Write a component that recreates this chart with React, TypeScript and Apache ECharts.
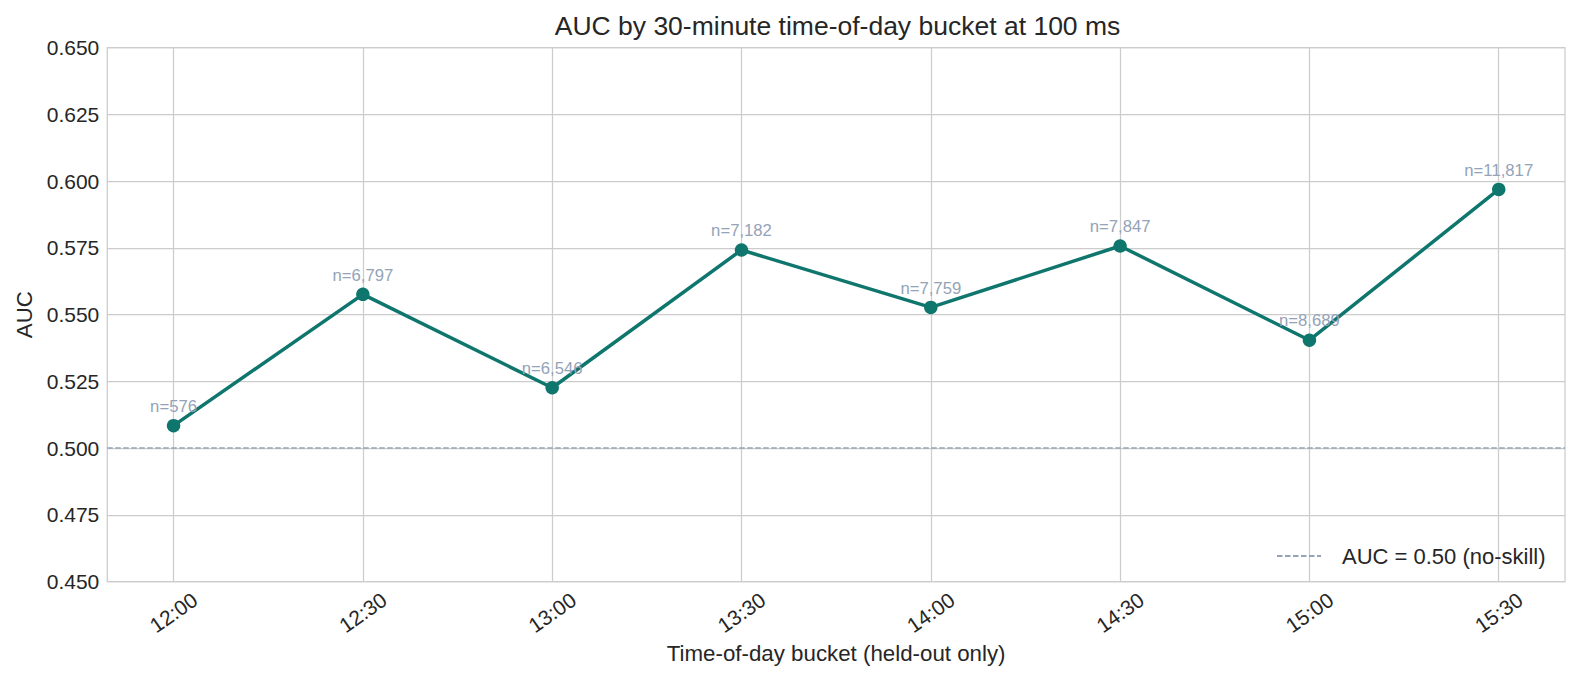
import React, { useEffect, useRef } from "react";
import * as echarts from "echarts";

const buckets = ["12:00", "12:30", "13:00", "13:30", "14:00", "14:30", "15:00", "15:30"];
const aucValues = [0.5084, 0.5576, 0.5226, 0.5742, 0.5527, 0.5757, 0.5404, 0.5969];
const counts = [576, 6797, 6546, 7182, 7759, 7847, 8689, 11817];
const baselineAuc = 0.5;
const yTicks = { min: 0.45, max: 0.65, step: 0.025 };

const FONT = "'Liberation Sans', Arial, Helvetica, sans-serif";
const TEXT = "#262626";
const GRID = "#cccccc";

export default function App() {
  const ref = useRef<HTMLDivElement>(null);

  useEffect(() => {
    if (!ref.current) return;
    const chart = echarts.init(ref.current, undefined, { renderer: "svg" });
    const idx = buckets.map((_, i) => i);
    const xMin = -0.35;
    const xMax = buckets.length - 1 + 0.35;

    chart.setOption({
      animation: false,
      backgroundColor: "#ffffff",
      textStyle: { fontFamily: FONT },
      title: {
        text: "AUC by 30-minute time-of-day bucket at 100 ms",
        left: 837.5,
        top: 12,
        padding: 0,
        textAlign: "center",
        textStyle: { fontFamily: FONT, fontSize: 26.5, fontWeight: "normal", color: TEXT },
      },
      grid: {
        left: 107.3,
        right: 16,
        top: 47.7,
        bottom: 101.5,
        show: true,
        borderColor: GRID,
        borderWidth: 1.25,
        backgroundColor: "transparent",
      },
      legend: {
        data: ["AUC = 0.50 (no-skill)"],
        left: 1276,
        top: 545,
        padding: 0,
        itemWidth: 44,
        itemHeight: 14,
        itemStyle: { opacity: 0 },
        formatter: (name: string) => "{g|}" + name,
        textStyle: {
          fontFamily: FONT,
          fontSize: 22,
          color: TEXT,
          rich: { g: { width: 16 } },
        },
      },
      xAxis: {
        type: "value",
        min: xMin,
        max: xMax,
        name: "Time-of-day bucket (held-out only)",
        nameLocation: "middle",
        nameGap: 70.5,
        nameTextStyle: { fontFamily: FONT, fontSize: 22.3, color: TEXT, verticalAlign: "middle" },
        axisLine: { show: false },
        axisTick: { show: false, customValues: idx },
        axisLabel: {
          customValues: idx,
          formatter: (v: number) => buckets[Math.round(v)] ?? "",
          rotate: 35,
          align: "center",
          verticalAlign: "middle",
          margin: 31,
          fontFamily: FONT,
          fontSize: 21,
          color: TEXT,
        },
        splitLine: { show: true, lineStyle: { color: GRID, width: 1.25 } },
      },
      yAxis: {
        type: "value",
        min: yTicks.min,
        max: yTicks.max,
        interval: yTicks.step,
        name: "AUC",
        nameLocation: "middle",
        nameGap: 83,
        nameTextStyle: { fontFamily: FONT, fontSize: 22.3, color: TEXT, verticalAlign: "middle" },
        axisLine: { show: false },
        axisTick: { show: false },
        axisLabel: {
          formatter: (v: number) => v.toFixed(3),
          margin: 8,
          fontFamily: FONT,
          fontSize: 21,
          color: TEXT,
        },
        splitLine: { show: true, lineStyle: { color: GRID, width: 1.25 } },
      },
      series: [
        {
          name: "AUC = 0.50 (no-skill)",
          type: "line",
          data: [
            [xMin, baselineAuc],
            [xMax, baselineAuc],
          ],
          symbol: "none",
          z: 2,
          lineStyle: { color: "#94a3b8", width: 1.5, type: [5.5, 2.5] },
          itemStyle: { color: "#94a3b8" },
          silent: true,
        },
        {
          name: "AUC",
          type: "line",
          data: aucValues.map((v, i) => [i, v]),
          symbol: "circle",
          symbolSize: 13.5,
          z: 3,
          lineStyle: { color: "#0f766e", width: 3.5 },
          itemStyle: { color: "#0f766e" },
          label: {
            show: true,
            position: "top",
            distance: 4,
            formatter: (p: any) => "n=" + counts[p.dataIndex].toLocaleString("en-US"),
            fontFamily: FONT,
            fontSize: 16.7,
            color: "#94a3b8",
          },
        },
      ],
    });

    return () => chart.dispose();
  }, []);

  return (
    <div
      ref={ref}
      style={{ position: "absolute", left: 0, top: 0, width: 1581, height: 683, background: "#fff" }}
    />
  );
}
